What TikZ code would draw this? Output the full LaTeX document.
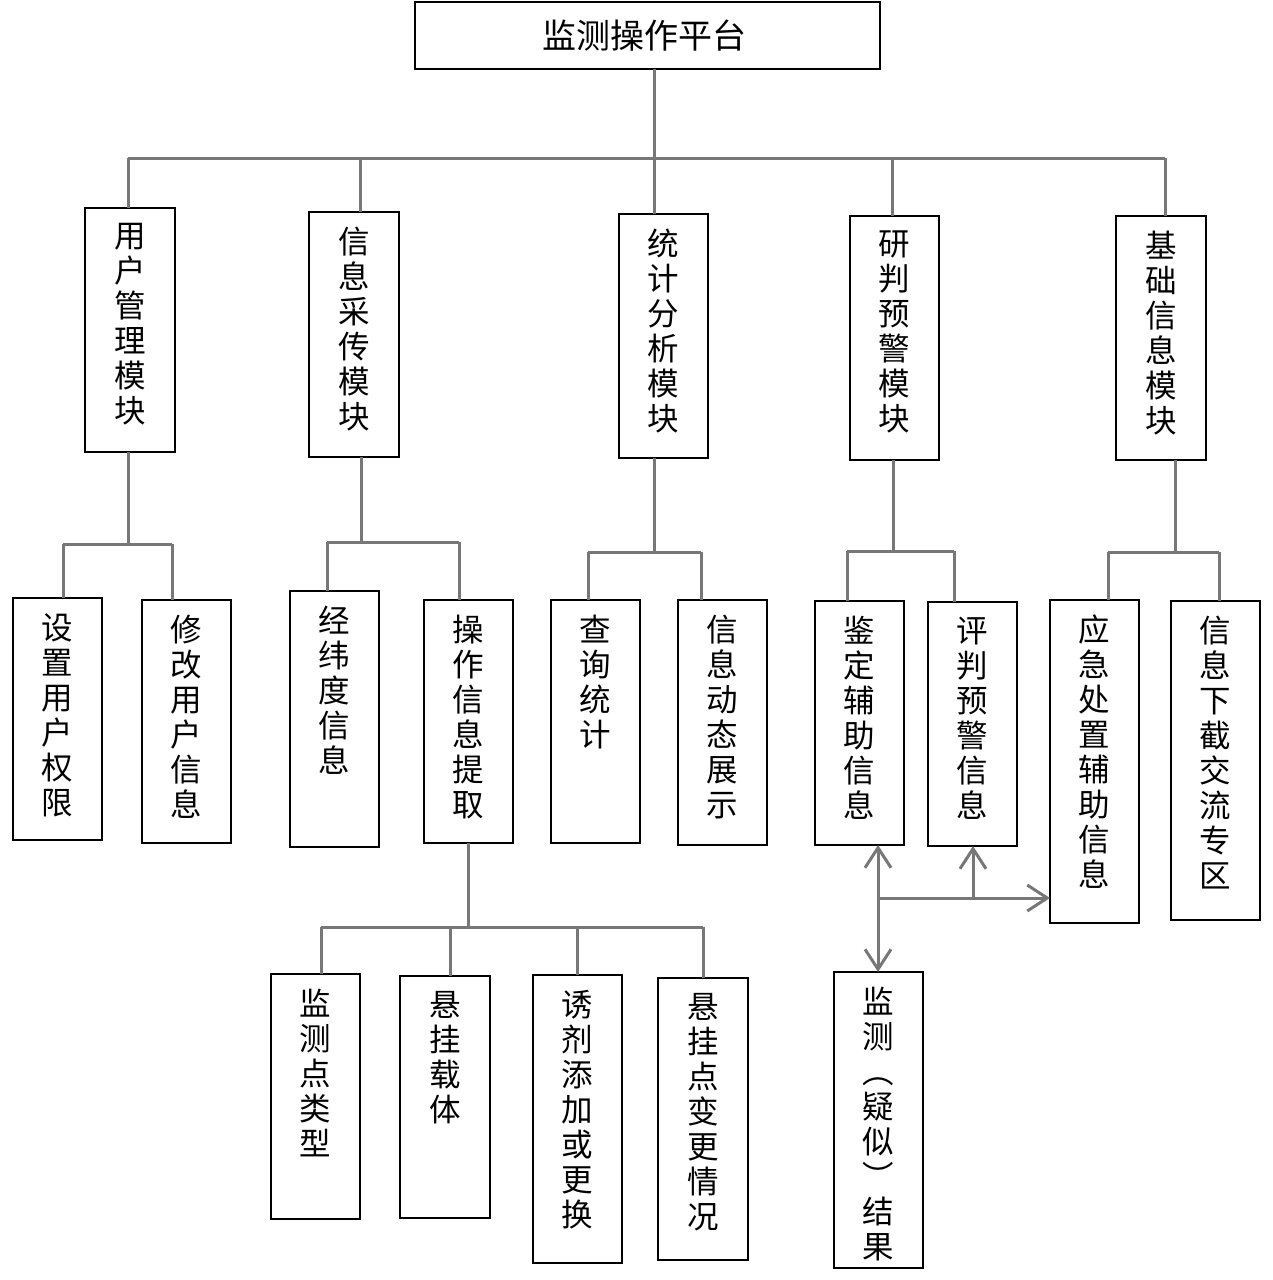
\documentclass[tikz,border=0pt]{standalone}
\usepackage{fontspec}
\newfontfamily\cjk{Noto Sans CJK SC}
\usetikzlibrary{arrows.meta}
\definecolor{conncol}{HTML}{777777}
\tikzset{
  box/.style={draw=black, line width=2.5pt, fill=white, outer sep=0pt, inner sep=0pt},
  txt/.style={font=\cjk\fontsize{31.5}{35}\selectfont, align=center, inner sep=0pt},
  conn/.style={draw=conncol, line width=3pt},
  arr/.style={draw=conncol, line width=3pt, arrows={-Straight Barb[length=20pt,width=26pt]}},
  arr2/.style={draw=conncol, line width=3pt, arrows={Straight Barb[length=20pt,width=26pt]-Straight Barb[length=20pt,width=26pt]}}
}
% #1 name, #2 x1, #3 y1, #4 x2, #5 y2, #6 text
\newcommand\mybx[6]{%
  \node[box, anchor=north west, minimum width={#4pt-#2pt}, minimum height={#5pt-#3pt}] (#1) at (#2,#3) {};
  \node[txt, anchor=north] (#1t) at ([yshift=-15pt]#1.north) {#6};
}
\begin{document}
\begin{tikzpicture}[x=1pt,y=-1pt]
\useasboundingbox (0,0) rectangle (1273,1280);
\fill[white] (0,0) rectangle (1273,1280);

% top
\node[box, anchor=north west, minimum width=465pt, minimum height=67pt] (top) at (415,2) {};
\node[txt, font=\cjk\fontsize{34}{36}\selectfont] (topt) at ([xshift=-3pt]top.center) {监测操作平台};

% level 2
\mybx{m1}{85}{208}{175}{452}{用\\户\\管\\理\\模\\块}
\mybx{m2}{309}{212}{399}{457}{信\\息\\采\\传\\模\\块}
\mybx{m3}{619}{214}{708}{458}{统\\计\\分\\析\\模\\块}
\mybx{m4}{850}{216}{939}{460}{研\\判\\预\\警\\模\\块}
\mybx{m5}{1116}{216}{1206}{460}{基\\础\\信\\息\\模\\块}

% level 3
\mybx{c11}{13}{598}{102}{840}{设\\置\\用\\户\\权\\限}
\mybx{c12}{142}{600}{231}{843}{修\\改\\用\\户\\信\\息}
\mybx{c21}{290}{591}{379}{847}{经\\纬\\度\\信\\息}
\mybx{c22}{424}{600}{513}{843}{操\\作\\信\\息\\提\\取}
\mybx{c31}{551}{600}{640}{843}{查\\询\\统\\计}
\mybx{c32}{678}{600}{767}{845}{信\\息\\动\\态\\展\\示}
\mybx{c41}{815}{601}{904}{845}{鉴\\定\\辅\\助\\信\\息}
\mybx{c42}{928}{602}{1017}{846}{评\\判\\预\\警\\信\\息}
\mybx{c51}{1050}{600}{1139}{923}{应\\急\\处\\置\\辅\\助\\信\\息}
\mybx{c52}{1171}{601}{1260}{920}{信\\息\\下\\截\\交\\流\\专\\区}

% level 4
\mybx{d1}{271}{974}{360}{1219}{监\\测\\点\\类\\型}
\mybx{d2}{400}{976}{490}{1218}{悬\\挂\\载\\体}
\mybx{d3}{533}{975}{622}{1263}{诱\\剂\\添\\加\\或\\更\\换}
\mybx{d4}{658}{978}{748}{1260}{悬\\挂\\点\\变\\更\\情\\况}
\mybx{r}{834}{972}{923}{1268}{监\\测\\︵\\疑\\似\\︶\\结\\果}

% main bus
\coordinate (b0) at (654,158);
\coordinate (b0l) at (128,158);
\coordinate (b0r) at (1165,158);
\draw[conn] (top.south -| b0) -- (b0);
\draw[conn] (b0l) -- (b0r);
\foreach \n/\x in {m1/128, m2/360, m3/654, m4/892, m5/1165}{
  \draw[conn] (\x,158) -- (\n.north -| \x,0);
}

% user module
\coordinate (u) at (128,544);
\draw[conn] (m1.south -| u) -- (u);
\draw[conn] (63,544) -- (172,544);
\draw[conn] (63,544) -- (c11.north -| 63,0);
\draw[conn] (172,544) -- (c12.north -| 172,0);

% info module
\coordinate (i) at (361,542);
\draw[conn] (m2.south -| i) -- (i);
\draw[conn] (327,542) -- (459,542);
\draw[conn] (327,542) -- (c21.north -| 327,0);
\draw[conn] (459,542) -- (c22.north -| 459,0);

% stat module
\coordinate (s) at (654,552);
\draw[conn] (m3.south -| s) -- (s);
\draw[conn] (588,552) -- (701,552);
\draw[conn] (588,552) -- (c31.north -| 588,0);
\draw[conn] (701,552) -- (c32.north -| 701,0);

% judge module
\coordinate (j) at (893,551);
\draw[conn] (m4.south -| j) -- (j);
\draw[conn] (847,551) -- (954,551);
\draw[conn] (847,551) -- (c41.north -| 847,0);
\draw[conn] (954,551) -- (c42.north -| 954,0);

% base module
\coordinate (k) at (1175,552);
\draw[conn] (m5.south -| k) -- (k);
\draw[conn] (1108,552) -- (1219,552);
\draw[conn] (1108,552) -- (c51.north -| 1108,0);
\draw[conn] (1219,552) -- (c52.north -| 1219,0);

% operation extraction
\coordinate (o) at (468,927);
\draw[conn] (c22.south -| o) -- (o);
\draw[conn] (321,927) -- (703,927);
\foreach \n/\x in {d1/321, d2/450, d3/577, d4/703}{
  \draw[conn] (\x,927) -- (\n.north -| \x,0);
}

% arrows
\coordinate (ax) at (878,898);
\coordinate (ax2) at (973,898);
\draw[arr2] (c41.south -| ax) -- (r.north -| ax);
\draw[arr] (ax) -- (c51.west |- ax);
\draw[arr] (ax2) -- (c42.south -| ax2);
\end{tikzpicture}
\end{document}
